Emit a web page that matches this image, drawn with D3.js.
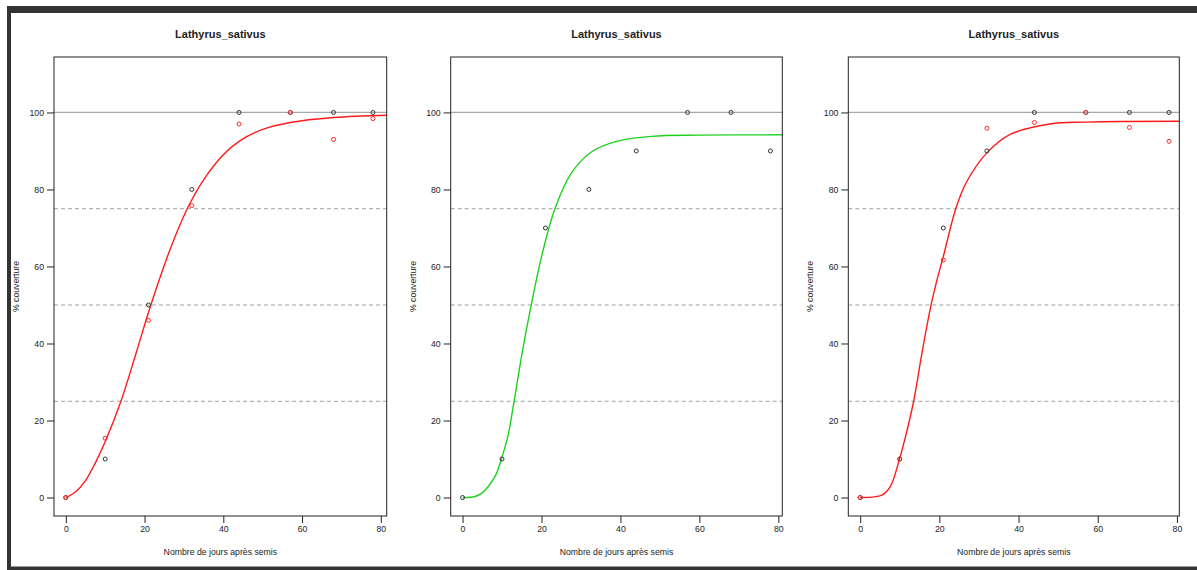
<!DOCTYPE html>
<html><head><meta charset="utf-8">
<script src="https://cdn.jsdelivr.net/npm/d3@7"></script>
<style>body{margin:0;background:#fff}svg{display:block}text{font-family:"Liberation Sans",Arial,sans-serif;fill:#222}</style>
</head><body><svg id="c" width="1197" height="570"></svg>
<script>
// ---- data ----
const title = "Lathyrus_sativus";
const xLabel = "Nombre de jours après semis";
const yLabel = "% couverture";
const xTicks = [0, 20, 40, 60, 80];
const yTicks = [0, 20, 40, 60, 80, 100];
const refLines = [25, 50, 75];
const fullLine = 100;

const days = [0, 10, 21, 32, 44, 57, 68, 78];
const p1Black = [0, 10, 50, 80, 100, 100, 100, 100];
const p1Red   = [0, 15.4, 46, 75.8, 97, 100, 93, 98.4];
const p2Black = [0, 10, 70, 80, 90, 100, 100, 90];
const p3Black = [0, 10, 70, 90, 100, 100, 100, 100];
const p3Red   = [0, 10, 61.7, 95.9, 97.4, 100, 96.1, 92.5];

// fitted curves
const fit1X = [0, 2.5, 5, 7.5, 10, 14, 18, 21.6, 26.7, 31, 35, 40, 44, 50, 57, 68, 82];
const fit1Y = [0, 1.5, 4.4, 9, 14.5, 25, 38, 50, 65, 75.3, 82.5, 89, 92.5, 95.6, 97.4, 98.7, 99.3];
const fit2X = [0, 3, 5, 7, 8.5, 10, 11.5, 12.9, 15, 17.4, 20, 23.4, 27.6, 32.7, 39.5, 47.9, 60, 82];
const fit2Y = [0, 0.2, 1.2, 3.5, 6, 10.5, 16, 24, 37, 50, 62.5, 75, 84.3, 89.8, 92.6, 93.8, 94.1, 94.2];
const fit3X = [0, 3, 5.5, 7.6, 9.9, 11.5, 13.5, 15.6, 17.7, 19.4, 21, 24.2, 26.9, 32, 37.9, 47.9, 57, 82];
const fit3Y = [0, 0.1, 0.6, 2.8, 9.9, 16, 25, 37.5, 49, 56.5, 62.6, 75.2, 82, 89.5, 94.3, 97.0, 97.5, 97.7];

const panels = [
  {left: 54,    right: 386.7,  xmax: 81.5, fitX: fit1X, fitY: fit1Y, fitColor: "#ff1a1a", black: p1Black, red: p1Red},
  {left: 450.7, right: 782.3,  xmax: 81.0, fitX: fit2X, fitY: fit2Y, fitColor: "#1fd11f", black: p2Black, red: null},
  {left: 848.3, right: 1179.3, xmax: 80.6, fitX: fit3X, fitY: fit3Y, fitColor: "#ff1a1a", black: p3Black, red: p3Red}
];

const plotTop = 57, plotBottom = 516;
const svg = d3.select("#c");

// frame
svg.append("rect").attr("x", 7).attr("y", 6).attr("width", 1190).attr("height", 7).attr("fill", "#333");
svg.append("rect").attr("x", 7).attr("y", 6).attr("width", 4).attr("height", 564).attr("fill", "#333");
svg.append("rect").attr("x", 7).attr("y", 566.5).attr("width", 1190).attr("height", 3.5).attr("fill", "#333");

const y = d3.scaleLinear().domain([-4.8, 114.4]).range([plotBottom, plotTop]);

panels.forEach((p, i) => {
  const x = d3.scaleLinear().domain([-3.0, p.xmax]).range([p.left, p.right]);
  const g = svg.append("g");
  const cx = (p.left + p.right) / 2;

  g.append("clipPath").attr("id", "clip" + i)
    .append("rect").attr("x", p.left).attr("y", plotTop).attr("width", p.right - p.left).attr("height", plotBottom - plotTop);

  // reference lines
  g.selectAll("line.ref").data(refLines).join("line")
    .attr("x1", p.left).attr("x2", p.right)
    .attr("y1", d => y(d)).attr("y2", d => y(d))
    .attr("stroke", "#a0a0a0").attr("stroke-width", 1).attr("stroke-dasharray", "4,3");
  g.append("line").attr("x1", p.left).attr("x2", p.right)
    .attr("y1", y(fullLine)).attr("y2", y(fullLine))
    .attr("stroke", "#a8a8a8").attr("stroke-width", 1.3);

  // fitted curve
  const pts = p.fitX.map((d, k) => [d, p.fitY[k]]);
  g.append("path").datum(pts)
    .attr("clip-path", "url(#clip" + i + ")")
    .attr("fill", "none").attr("stroke", p.fitColor).attr("stroke-width", 1.4)
    .attr("d", d3.line().x(d => x(d[0])).y(d => y(d[1])).curve(d3.curveCatmullRom.alpha(0.5)));

  // points
  const drawPts = (vals, col) => {
    g.append("g").selectAll("circle").data(days.map((d, k) => [d, vals[k]])).join("circle")
      .attr("cx", d => x(d[0])).attr("cy", d => y(d[1])).attr("r", 2)
      .attr("fill", "none").attr("stroke", col).attr("stroke-width", 1);
  };
  drawPts(p.black, "#333");
  if (p.red) drawPts(p.red, "#ff2a2a");

  // box
  g.append("rect").attr("x", p.left).attr("y", plotTop).attr("width", p.right - p.left).attr("height", plotBottom - plotTop)
    .attr("fill", "none").attr("stroke", "#222").attr("stroke-width", 1);

  // x axis
  const xa = g.append("g").attr("transform", `translate(0,${plotBottom})`)
    .call(d3.axisBottom(x).tickValues(xTicks).tickSize(7).tickPadding(3).tickFormat(d3.format("d")));
  xa.select(".domain").remove();
  xa.selectAll("line").attr("stroke", "#222");
  xa.selectAll("text").attr("font-size", "8.7px").attr("fill", "#222");

  // y axis
  const ya = g.append("g").attr("transform", `translate(${p.left},0)`)
    .call(d3.axisLeft(y).tickValues(yTicks).tickSize(7).tickPadding(3).tickFormat(d3.format("d")));
  ya.select(".domain").remove();
  ya.selectAll("line").attr("stroke", "#222");
  ya.selectAll("text").attr("font-size", "8.7px").attr("fill", "#222");

  // title & labels
  g.append("text").attr("x", cx).attr("y", 37.5).attr("text-anchor", "middle")
    .attr("font-size", "11px").attr("font-weight", "bold").text(title);
  g.append("text").attr("x", cx).attr("y", 555).attr("text-anchor", "middle")
    .attr("font-size", "8.7px").text(xLabel);
  g.append("text").attr("transform", `translate(${p.left - 35},${(plotTop + plotBottom) / 2}) rotate(-90)`)
    .attr("text-anchor", "middle").attr("font-size", "8.7px").text(yLabel);
});
</script>
</body></html>
